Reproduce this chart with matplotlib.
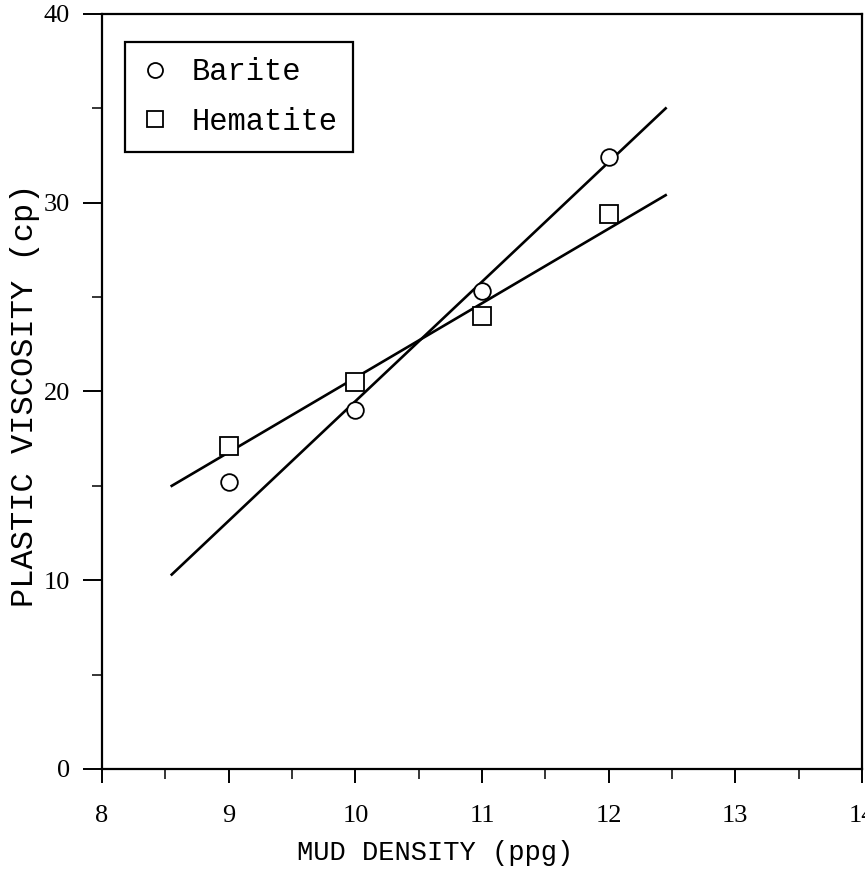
import matplotlib
matplotlib.use("Agg")
import matplotlib.pyplot as plt
from matplotlib.ticker import MultipleLocator

# measured points
density = [9, 10, 11, 12]
barite = [15.2, 19.0, 25.3, 32.4]
hematite = [17.1, 20.5, 24.0, 29.4]

# fitted lines as drawn (end points)
fit_x = [8.55, 12.45]
barite_fit = [10.3, 35.0]
hematite_fit = [15.0, 30.4]

x_ticks = [8, 9, 10, 11, 12, 13, 14]
y_ticks = [0, 10, 20, 30, 40]

serif = "Liberation Serif"
mono = "Liberation Mono"

fig = plt.figure(figsize=(8.65, 8.85), dpi=100)
ax = fig.add_axes([0.118, 0.1311, 0.8785, 0.8531])

ax.plot(fit_x, barite_fit, color="black", lw=1.9, zorder=2)
ax.plot(fit_x, hematite_fit, color="black", lw=1.9, zorder=2)
ax.plot(density, barite, "o", ms=12, mfc="white", mec="black", mew=1.3,
        label="Barite", zorder=3)
ax.plot(density, hematite, "s", ms=12.5, mfc="white", mec="black", mew=1.3,
        label="Hematite", zorder=3)

ax.set_xlim(8, 14)
ax.set_ylim(0, 40)
ax.set_xticks(x_ticks)
ax.set_yticks(y_ticks)
ax.xaxis.set_minor_locator(MultipleLocator(0.5))
ax.yaxis.set_minor_locator(MultipleLocator(5))
ax.tick_params(which="major", direction="out", length=14, width=1.4,
               labelsize=19, pad=9)
ax.tick_params(axis="x", which="major", length=10, pad=16)
ax.tick_params(which="minor", direction="out", length=7, width=1.1)
for lab in ax.get_xticklabels() + ax.get_yticklabels():
    lab.set_fontfamily(serif)

for side in ["left", "bottom", "top", "right"]:
    ax.spines[side].set_linewidth(1.6)

ax.set_xlabel("MUD DENSITY (ppg)", fontfamily=mono, fontsize=19.5)
ax.xaxis.set_label_coords(0.438, -0.094)
ax.set_ylabel("PLASTIC VISCOSITY (cp)", fontfamily=mono, fontsize=23)
ax.yaxis.set_label_coords(-0.082, 0.495)

leg = ax.legend(loc="upper left", bbox_to_anchor=(0.03, 0.963),
                borderaxespad=0, fancybox=False, framealpha=1,
                edgecolor="black", prop={"family": mono, "size": 22},
                handlelength=1.0, handletextpad=0.7, labelspacing=0.65,
                borderpad=0.5, markerscale=0.9)
leg.get_frame().set_linewidth(1.6)

fig.savefig("out.png", dpi=100)
